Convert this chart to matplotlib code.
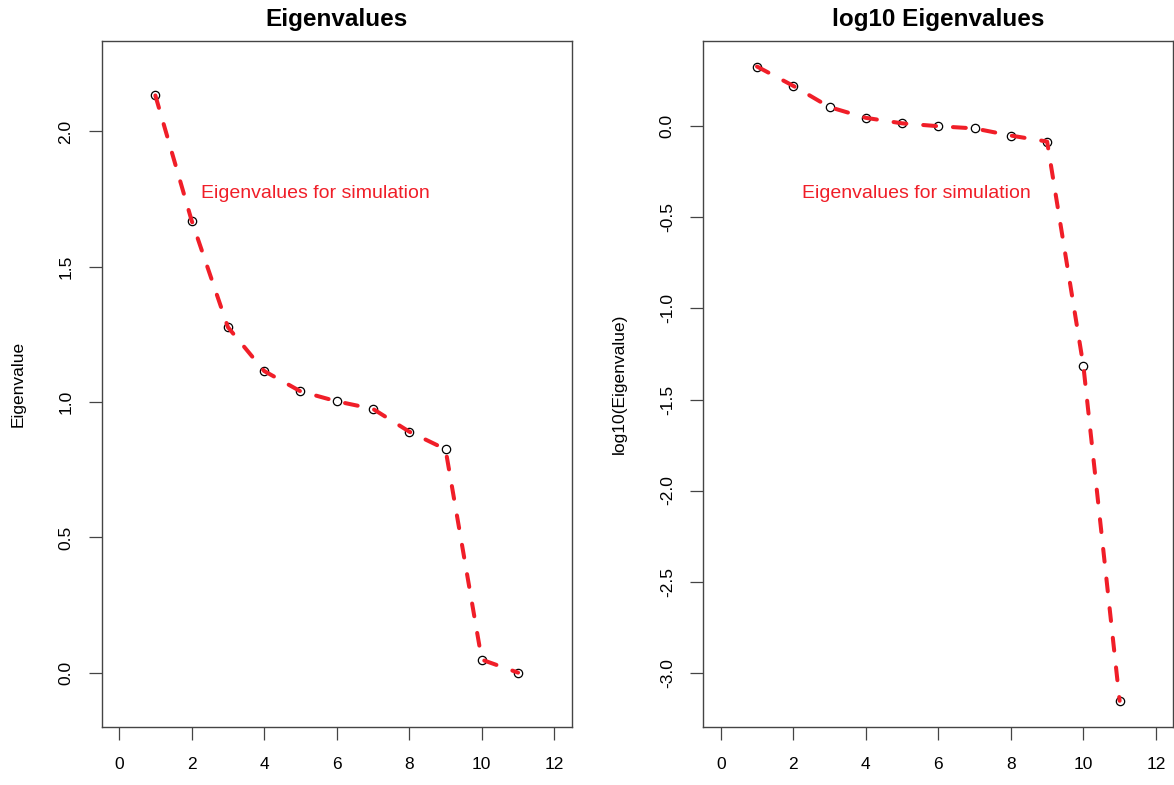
import matplotlib
matplotlib.use('Agg')
import matplotlib.pyplot as plt
import numpy as np

# eigenvalues
components = [1, 2, 3, 4, 5, 6, 7, 8, 9, 10, 11]
eigenvalues = [2.133, 1.671, 1.277, 1.115, 1.040, 1.003, 0.975, 0.891, 0.826, 0.0485, 0.0007]

x_ticks = [0, 2, 4, 6, 8, 10, 12]
left_yticks = [0.0, 0.5, 1.0, 1.5, 2.0]
right_yticks = [-3.0, -2.5, -2.0, -1.5, -1.0, -0.5, 0.0]
note = 'Eigenvalues for simulation'

plt.rcParams['font.family'] = ['Liberation Sans', 'DejaVu Sans']
plt.rcParams['axes.unicode_minus'] = False

RED = '#f01e28'
EDGE = '#444444'

fig = plt.figure(figsize=(11.74, 7.85), dpi=100)
ax1 = fig.add_axes([0.0866, 0.0743, 0.4004, 0.8741])
ax2 = fig.add_axes([0.5991, 0.0743, 0.4003, 0.8741])


def draw_panel(ax, yvals, yticks, ylim, title, ylabel, note_y):
    # open circles first, dashed red line on top (like points() then lines() in R)
    ax.plot(components, yvals, 'o', mfc='none', mec='black', ms=6, mew=0.9, zorder=2)
    ax.plot(components, yvals, color=RED, lw=2.9, dashes=(3.2, 4.2),
            dash_capstyle='round', solid_capstyle='round', zorder=3)
    ax.text(5.4, note_y, note, color=RED, fontsize=14, ha='center', va='center')

    ax.set_xlim(-0.48, 12.48)
    ax.set_ylim(*ylim)
    ax.set_xticks(x_ticks)
    ax.set_xticklabels([str(t) for t in x_ticks])
    ax.set_yticks(yticks)
    ax.set_yticklabels([f'{t:.1f}' for t in yticks])
    for lab in ax.get_yticklabels():
        lab.set_rotation(90)
        lab.set_va('center')
        lab.set_ha('right')

    ax.tick_params(axis='both', length=9.5, width=0.9, color=EDGE, labelsize=12.5,
                   labelcolor='black')
    ax.tick_params(axis='x', pad=12)
    ax.tick_params(axis='y', pad=11)
    for sp in ax.spines.values():
        sp.set_color(EDGE)
        sp.set_linewidth(1.0)

    ax.set_title(title, fontsize=17.5, fontweight='bold', pad=10.4)
    ax.set_ylabel(ylabel, fontsize=12.5, va='center')
    ax.yaxis.set_label_coords(-84 / 470, 0.5)


draw_panel(ax1, eigenvalues, left_yticks, (-0.199, 2.336),
           'Eigenvalues', 'Eigenvalue', 1.771)
draw_panel(ax2, list(np.log10(eigenvalues)), right_yticks, (-3.297, 0.472),
           'log10 Eigenvalues', 'log10(Eigenvalue)', -0.368)

fig.savefig('out.png', dpi=100)
